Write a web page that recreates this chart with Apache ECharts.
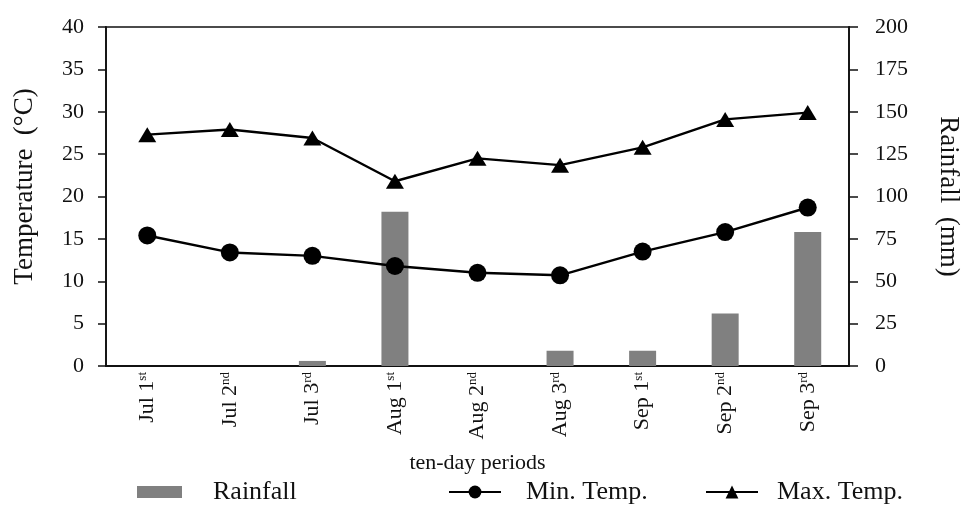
<!DOCTYPE html>
<html><head><meta charset="utf-8">
<script src="https://cdn.jsdelivr.net/npm/echarts@6/dist/echarts.min.js"></script>
<style>html,body{margin:0;padding:0;background:#fff;overflow:hidden}#c{width:970px;height:506px}</style>
</head><body><div id="c"></div>
<script>
var periods = ['Jul 1', 'Jul 2', 'Jul 3', 'Aug 1', 'Aug 2', 'Aug 3', 'Sep 1', 'Sep 2', 'Sep 3'];
var suffixes = ['st', 'nd', 'rd', 'st', 'nd', 'rd', 'st', 'nd', 'rd'];
var rainfall = [0, 0, 3, 91, 0, 9, 9, 31, 79];
var minTemp = [15.4, 13.4, 13.0, 11.8, 11.0, 10.7, 13.5, 15.8, 18.7];
var maxTemp = [27.3, 27.9, 26.9, 21.8, 24.5, 23.7, 25.8, 29.1, 29.9];
var tempTicks = {min: 0, max: 40, interval: 5};
var rainTicks = {min: 0, max: 200, interval: 25};

var FONT = 'Liberation Serif';
var INK = '#111';
var chart = echarts.init(document.getElementById('c'));
var axisLine = {show: true, lineStyle: {color: INK, width: 1.8}};
chart.setOption({
  animation: false,
  grid: {left: 106, right: 105, top: 27, bottom: 140, show: true, borderColor: INK, borderWidth: 1.5},
  legend: [
    {left: 137, top: 479, padding: 0, itemWidth: 45, itemHeight: 12, data: [{name: 'Rainfall', icon: 'rect'}],
     textStyle: {fontFamily: FONT, fontSize: 26, color: INK, padding: [0, 0, 0, 26]}},
    {left: 448, top: 479, padding: 0, itemWidth: 52, itemHeight: 16, data: ['Min. Temp.'],
     textStyle: {fontFamily: FONT, fontSize: 26, color: INK, padding: [0, 0, 0, 20]}},
    {left: 705, top: 479, padding: 0, itemWidth: 52, itemHeight: 16, data: ['Max. Temp.'],
     textStyle: {fontFamily: FONT, fontSize: 26, color: INK, padding: [0, 0, 0, 14]}}
  ],
  xAxis: {
    type: 'category', data: periods, boundaryGap: true,
    axisLine: axisLine, axisTick: {show: false},
    name: 'ten-day periods', nameLocation: 'middle', nameGap: 86,
    nameTextStyle: {fontFamily: FONT, fontSize: 22, color: INK},
    axisLabel: {
      rotate: 90, margin: 6, interval: 0,
      formatter: function (v, i) { return '{a|' + v + '}{s|' + suffixes[i] + '}'; },
      rich: {
        a: {fontFamily: FONT, fontSize: 22, color: INK, verticalAlign: 'bottom'},
        s: {fontFamily: FONT, fontSize: 13, color: INK, verticalAlign: 'top'}
      }
    }
  },
  yAxis: [
    {type: 'value', min: tempTicks.min, max: tempTicks.max, interval: tempTicks.interval,
     splitLine: {show: false}, axisLine: axisLine,
     axisTick: {show: true, length: 8, lineStyle: {color: INK, width: 1.5}},
     axisLabel: {fontFamily: FONT, fontSize: 22, color: INK, margin: 22},
     name: 'Temperature  (°C)', nameLocation: 'middle', nameGap: 68, nameRotate: 90,
     nameTextStyle: {fontFamily: FONT, fontSize: 27, color: INK, padding: [0, 0, 0, 20]}},
    {type: 'value', min: rainTicks.min, max: rainTicks.max, interval: rainTicks.interval,
     position: 'right', splitLine: {show: false}, axisLine: axisLine,
     axisTick: {show: true, length: 9, lineStyle: {color: INK, width: 1.5}},
     axisLabel: {fontFamily: FONT, fontSize: 22, color: INK, margin: 26},
     name: 'Rainfall  (mm)', nameLocation: 'middle', nameGap: 86, nameRotate: -90,
     nameTextStyle: {fontFamily: FONT, fontSize: 27, color: INK}}
  ],
  series: [
    {name: 'Rainfall', type: 'bar', yAxisIndex: 1, data: rainfall, barWidth: 27,
     itemStyle: {color: '#808080'}},
    {name: 'Min. Temp.', type: 'line', yAxisIndex: 0, data: minTemp,
     symbol: 'circle', symbolSize: 18, lineStyle: {color: '#000', width: 2.4},
     itemStyle: {color: '#000'}},
    {name: 'Max. Temp.', type: 'line', yAxisIndex: 0, data: maxTemp,
     symbol: 'triangle', symbolSize: [18, 15], lineStyle: {color: '#000', width: 2.4},
     itemStyle: {color: '#000'}}
  ]
});
</script></body></html>
